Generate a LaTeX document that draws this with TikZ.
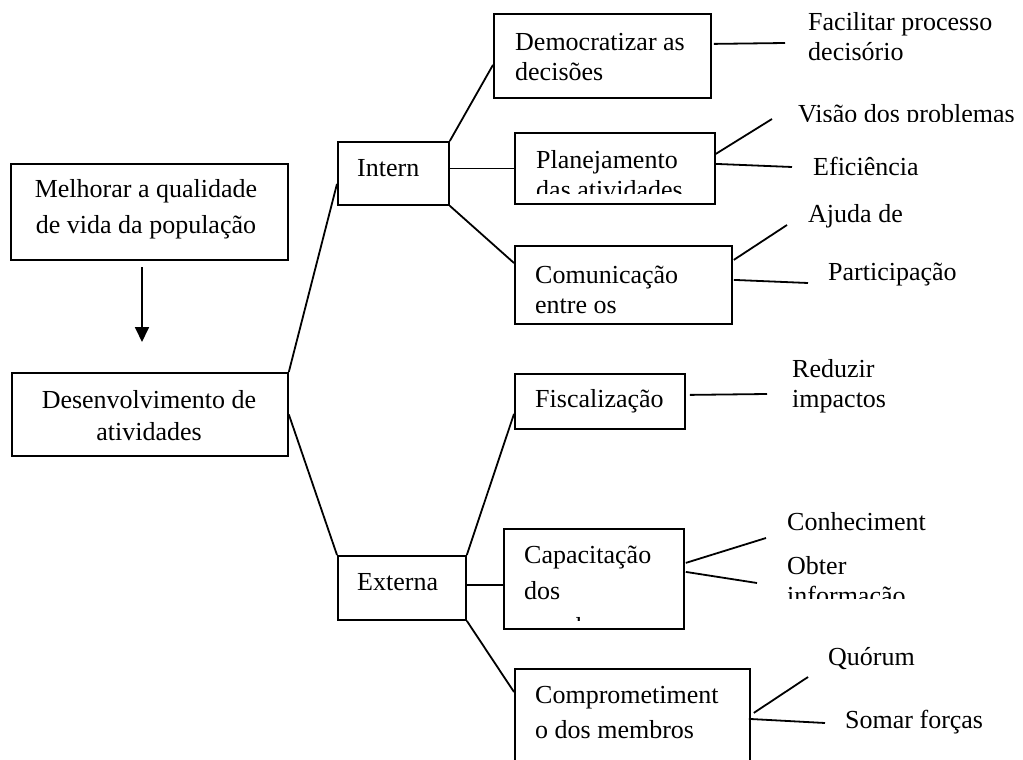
\documentclass[tikz,border=0pt]{standalone}
\usepackage{fontspec}
\setmainfont{Liberation Serif}
\usetikzlibrary{arrows.meta}
\newcommand\myst{\rule{0pt}{21pt}}
\begin{document}
\begin{tikzpicture}[x=1pt,y=-1pt,
  box/.style={draw, line width=1.8pt, inner sep=0pt, anchor=north west},
  lbl/.style={anchor=north west, inner sep=0pt, align=left, font=\fontsize{26}{30}\selectfont},
  clbl/.style={anchor=north, inner sep=0pt, align=center, font=\fontsize{26}{30}\selectfont},
  conn/.style={line width=1.8pt}]
\useasboundingbox (0,0) rectangle (1023,760);

% boxes
\node[box, minimum width=277pt, minimum height=96pt] (mel) at (10,163) {};
\node[box, minimum width=276pt, minimum height=83pt] (des) at (11,372) {};
\node[box, minimum width=111pt, minimum height=63pt] (intern) at (337,141) {};
\node[box, minimum width=128pt, minimum height=64pt] (ext) at (337,555) {};
\node[box, minimum width=217pt, minimum height=84pt] (dem) at (493,13) {};
\node[box, minimum width=200pt, minimum height=71pt] (plan) at (514,132) {};
\node[box, minimum width=217pt, minimum height=78pt] (com) at (514,245) {};
\node[box, minimum width=170pt, minimum height=55pt] (fis) at (514,373) {};
\node[box, minimum width=180pt, minimum height=100pt] (cap) at (503,528) {};
\node[box, minimum width=235pt, minimum height=110pt] (comp) at (514,668) {};

% box texts
\node[clbl, font=\fontsize{26}{36}\selectfont] (melT) at (146,176) {\myst Melhorar a qualidade\\de vida da população};
\node[clbl, font=\fontsize{26}{32}\selectfont] (desT) at (149,387) {\myst Desenvolvimento de\\atividades};
\node[lbl] (internT) at (357,155) {\myst Intern};
\node[lbl] (extT) at (357,569) {\myst Externa};
\node[lbl] (demT) at (515,29) {\myst Democratizar as\\decisões};
\begin{scope}
  \clip (514,132) rectangle (714,193);
  \node[lbl] (planT) at (536,147) {\myst Planejamento\\das atividades};
\end{scope}
\node[lbl] (comT) at (535,262) {\myst Comunicação\\entre os};
\node[lbl] (fisT) at (535,386) {\myst Fiscalização};
\begin{scope}
  \clip (503,528) rectangle (683,620);
  \node[lbl, font=\fontsize{26}{36}\selectfont] (capT) at (524,542) {\myst Capacitação\\dos\\membros};
\end{scope}
\node[lbl, font=\fontsize{26}{35}\selectfont] (compT) at (535,682) {\myst Comprometiment\\o dos membros};

% free texts
\node[lbl] (facT) at (808,9) {\myst Facilitar processo\\decisório};
\begin{scope}
  \clip (790,90) rectangle (1023,121);
  \node[lbl] (visT) at (798,101) {\myst Visão dos problemas};
\end{scope}
\begin{scope}
  \clip (800,140) rectangle (1023,175);
  \node[lbl] (efiT) at (813,154) {\myst Eficiência};
\end{scope}
\node[lbl] (ajuT) at (808,201) {\myst Ajuda de};
\node[lbl] (parT) at (828,259) {\myst Participação};
\node[lbl] (redT) at (792,356) {\myst Reduzir\\impactos};
\node[lbl] (conT) at (787,509) {\myst Conheciment};
\begin{scope}
  \clip (780,540) rectangle (1023,598);
  \node[lbl] (obtT) at (787,553) {\myst Obter\\informação};
\end{scope}
\node[lbl] (quoT) at (828,644) {\myst Quórum};
\node[lbl] (somT) at (845,707) {\myst Somar forças};

% arrow
\coordinate (ar1) at (142,267);
\coordinate (ar2) at (142,342);
\draw[conn, -{Triangle[length=15pt,width=14pt]}] (ar1) -- (ar2);

% tree connectors
\draw[conn] (des.north east) -- ([yshift=-10.5pt]intern.west);
\draw[conn] (des.east) -- (ext.north west);
\draw[conn] (intern.north east) -- ([yshift=-9pt]dem.west);
\draw[conn] (plan.west -| intern.east) -- (plan.west);
\draw[conn] (intern.south east) -- ([yshift=-18pt]com.north west);
\draw[conn] (ext.north east) -- ([yshift=-12.5pt]fis.west);
\draw[conn] ([yshift=3pt]ext.east) -- ([yshift=3pt]ext.east -| cap.west);
\draw[conn] (ext.south east) -- ([yshift=-24pt]comp.north west);

% outgoing connectors
\coordinate (f1) at (785,43);
\coordinate (v1) at (772,119);
\coordinate (e1) at (792,167);
\coordinate (a1) at (787,225);
\coordinate (p1) at (808,283);
\coordinate (r1) at (767,394);
\coordinate (c1) at (766,538);
\coordinate (o1) at (757,583);
\coordinate (q1) at (808,677);
\coordinate (s1) at (825,723);
\draw[conn] ([xshift=2pt,yshift=12pt]dem.east) -- (f1);
\draw[conn] ([yshift=14.5pt]plan.east) -- (v1);
\draw[conn] ([yshift=4.5pt]plan.east) -- (e1);
\draw[conn] ([xshift=1pt,yshift=25pt]com.east) -- (a1);
\draw[conn] ([xshift=1pt,yshift=5pt]com.east) -- (p1);
\draw[conn] ([xshift=4pt,yshift=6.5pt]fis.east) -- (r1);
\draw[conn] ([xshift=1pt,yshift=16pt]cap.east) -- (c1);
\draw[conn] ([xshift=1pt,yshift=7pt]cap.east) -- (o1);
\draw[conn] ([xshift=3pt,yshift=11pt]comp.east) -- (q1);
\draw[conn] ([xshift=-2pt,yshift=5pt]comp.east) -- (s1);
\end{tikzpicture}
\end{document}
